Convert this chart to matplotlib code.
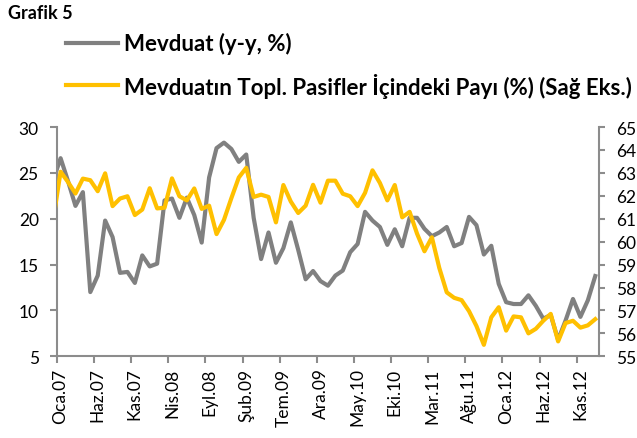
import matplotlib.pyplot as plt
from matplotlib.lines import Line2D
import numpy as np

plt.rcParams['font.family'] = ['Lato', 'DejaVu Sans']

tick_labels = ['Oca.07', 'Haz.07', 'Kas.07', 'Nis.08', 'Eyl.08', 'Şub.09', 'Tem.09',
               'Ara.09', 'May.10', 'Eki.10', 'Mar.11', 'Ağu.11', 'Oca.12', 'Haz.12', 'Kas.12']

# monthly, Ara.06 .. Oca.13 (the Ara.06 value is cut off at the axis)
mevduat = [24.2, 26.6, 24.1, 21.4, 22.9, 12.0, 13.8, 19.8, 18.0, 14.1, 14.2,
           13.0, 16.0, 14.8, 15.1, 22.0, 22.2, 20.1, 22.3, 20.4, 17.4,
           24.5, 27.7, 28.3, 27.6, 26.2, 27.0, 20.1, 15.6, 18.5, 15.2,
           16.8, 19.6, 16.6, 13.4, 14.3, 13.2, 12.7, 13.8, 14.35, 16.35,
           17.25, 20.75, 19.8, 19.1, 17.15, 18.85, 17.0, 20.1, 20.1, 18.9,
           18.1, 18.5, 19.1, 17.0, 17.35, 20.2, 19.3, 16.1, 17.05, 12.9,
           10.9, 10.7, 10.7, 11.65, 10.5, 9.1, 9.5, 6.8, 8.9, 11.25,
           9.3, 11.1, 13.75]
pay = [60.95, 63.05, 62.6, 62.1, 62.75, 62.68, 62.2, 62.98, 61.55, 61.88, 61.98,
       61.16, 61.4, 62.33, 61.45, 61.48, 62.76, 61.98, 61.8, 62.32, 61.43,
       61.57, 60.33, 60.95, 61.9, 62.8, 63.22, 61.95, 62.05, 61.95, 60.84,
       62.47, 61.75, 61.25, 61.57, 62.48, 61.7, 62.66, 62.66, 62.09, 61.98,
       61.55, 62.13, 63.11, 62.56, 61.8, 62.47, 61.06, 61.3, 60.35, 59.58,
       60.19, 58.85, 57.79, 57.55, 57.45, 56.97, 56.32, 55.5, 56.7, 57.14,
       56.12, 56.74, 56.7, 56.0, 56.2, 56.55, 56.85, 55.65, 56.45, 56.55,
       56.25, 56.35, 56.62]

x = np.arange(len(mevduat)) - 1

gray = '#808080'
yellow = '#FFC000'
axis_col = '#8c8c8c'

fig = plt.figure(figsize=(6.37, 4.39), dpi=100)
ax = fig.add_axes([0.0893, 0.1861, 0.8510, 0.5223])
ax2 = ax.twinx()

ax.plot(x, mevduat, color=gray, lw=3, solid_joinstyle='round')
ax2.plot(x, pay, color=yellow, lw=3, solid_joinstyle='round')

ax.set_xlim(-0.5, 72.5)
ax.set_ylim(5, 30)
ax2.set_ylim(55, 65)
ax.set_yticks(range(5, 31, 5))
ax2.set_yticks(range(55, 66))

# tick marks on category borders, labels on the category
ax.set_xticks(np.arange(-0.5, 72, 5))
ax.set_xticklabels([])
ax.set_xticks(np.arange(0, 71, 5), minor=True)
ax.set_xticklabels(tick_labels, minor=True, rotation=90, fontsize=12.5)
ax.tick_params(axis='x', which='major', direction='out', length=5, width=1.5, color=axis_col)
ax.tick_params(axis='x', which='minor', length=0, pad=8)
ax.tick_params(axis='y', direction='out', length=5, width=1.5, color=axis_col, labelsize=12.5, pad=8)
ax2.tick_params(axis='y', direction='out', length=4, width=1.5, color=axis_col, labelsize=12.5, pad=8)

ax.spines['top'].set_visible(False)
ax.spines['right'].set_visible(False)
for s in ['top', 'left', 'bottom']:
    ax2.spines[s].set_visible(False)
for a, sides in [(ax, ['left', 'bottom']), (ax2, ['right'])]:
    for s in sides:
        a.spines[s].set_color(axis_col)
        a.spines[s].set_linewidth(1.5)

fig.text(0.0126, 0.970, 'Grafik 5', fontsize=13, fontweight='bold', va='center')
legend_items = [(0.8998, gray, 'Mevduat (y-y, %)'),
                (0.8040, yellow, 'Mevduatın Topl. Pasifler İçindeki Payı (%) (Sağ Eks.)')]
for yy, col, txt in legend_items:
    fig.add_artist(Line2D([0.1036, 0.1852], [yy, yy], color=col, lw=3,
                          transform=fig.transFigure))
    fig.text(0.1947, yy, txt, fontsize=16, fontweight='bold', va='center')

fig.savefig('out.png', dpi=100)
